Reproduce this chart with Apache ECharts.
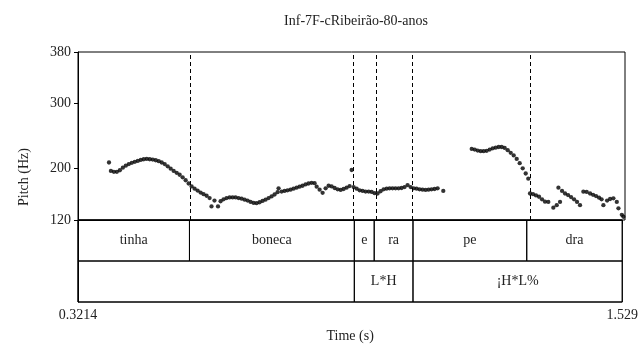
<!DOCTYPE html>
<html>
<head>
<meta charset="utf-8">
<script src="https://cdn.jsdelivr.net/npm/echarts@6/dist/echarts.min.js"></script>
<style>
    html, body {margin: 0; padding: 0; background: #fff;}
    #chart {width: 641px; height: 344px;}
</style>
</head>
<body>
<div id="chart"></div>
<script>
const titleText = 'Inf-7F-cRibeirão-80-anos';
const timeMin = 0.3214;
const timeMax = 1.529;
const pitchMin = 120;
const pitchMax = 380;
const pitchTicks = [120, 200, 300, 380];
const timeTicks = [0.3214, 1.529];

// pitch track (s, Hz)
const pitchTime = [
    0.3898, 0.394, 0.4006, 0.4072, 0.4138, 0.4204, 0.427, 0.4336, 0.4402, 0.4468,
    0.4534, 0.46, 0.4666, 0.4732, 0.4798, 0.4864, 0.493, 0.4996, 0.5062, 0.5128,
    0.5194, 0.526, 0.5326, 0.5392, 0.5458, 0.5524, 0.559, 0.5656,
    0.5722, 0.5788, 0.5854, 0.592, 0.5986, 0.6053, 0.6119, 0.6161, 0.6227, 0.6305,
    0.6362, 0.6428, 0.6494, 0.6561, 0.6627, 0.6693, 0.6759, 0.6826, 0.6892, 0.6958,
    0.7024, 0.7091, 0.7157, 0.7223, 0.7289, 0.7355, 0.7422, 0.7488, 0.7554, 0.762,
    0.7642, 0.7709, 0.7775, 0.7841, 0.7907, 0.7973, 0.804, 0.8106, 0.8172, 0.8238,
    0.8304, 0.8371, 0.8437, 0.8483, 0.8548, 0.8614, 0.8681, 0.8747, 0.8813, 0.8879,
    0.8945, 0.9012, 0.9078, 0.9144, 0.921, 0.9256, 0.9299, 0.9365, 0.9431, 0.9497,
    0.9563, 0.963, 0.9696, 0.9762, 0.9828, 0.9894, 0.9961, 1.0027, 1.0093, 1.0159,
    1.0225, 1.0292, 1.0358, 1.0424, 1.049, 1.0557, 1.0623, 1.0689, 1.0755, 1.0821,
    1.0888, 1.0954, 1.102, 1.1086, 1.1153, 1.1278,
    1.1906, 1.1972, 1.2038, 1.2105, 1.2171, 1.2237, 1.2303, 1.237, 1.2436, 1.2502,
    1.2568, 1.2634, 1.2701, 1.2767, 1.2833, 1.2899, 1.2965, 1.3032, 1.3098, 1.3155,
    1.3193, 1.3259, 1.3325, 1.3392, 1.3458, 1.3524, 1.3597, 1.3708, 1.3783, 1.382,
    1.3856, 1.39, 1.3966, 1.4033, 1.4099, 1.4165, 1.4231, 1.4297, 1.4371, 1.4444,
    1.4519, 1.4585, 1.4651, 1.4717, 1.4773, 1.4813, 1.4895, 1.4961, 1.5034, 1.5109,
    1.5145, 1.522, 1.5255
];
const pitchHz = [
    209, 196, 194.5, 194.5, 197, 201, 204, 206.5, 208.5, 210,
    211.5, 213, 214, 214.5, 214, 213.5, 212.5, 211, 209, 206.5,
    203, 199.5, 196, 193, 190, 186, 181.5, 176.5,
    172, 168.5, 165.5, 162.5, 160, 157.5, 154, 141, 150, 141,
    149, 152, 154, 155, 155, 155, 154, 153, 151.5, 150,
    148, 146.5, 146, 147.5, 149.5, 151.5, 154, 156.5, 159.5, 163,
    169, 164, 165, 166, 167, 168.5, 170, 171.5, 173, 175,
    176.5, 177.5, 177, 171.6, 167, 162, 169, 173, 172, 169.5,
    167.5, 166.5, 168, 170, 172.5, 197.4, 171, 168.5, 166, 165,
    164, 164, 163.5, 161.5, 161, 164.5, 167.5, 168.5, 169, 169,
    169, 169, 169.5, 171, 174, 171, 169, 168.5, 167.5, 167,
    166.5, 167, 167.5, 168, 169, 165,
    230, 229, 227.5, 226.5, 226.5, 227, 229, 231, 232, 233,
    233, 231.5, 228, 224, 220, 214.5, 208, 200, 192, 184,
    161, 160, 158, 156, 152, 148.3, 148, 139, 143, 170,
    148, 165, 161, 158.5, 155.5, 152, 148, 143, 163.8, 163.5,
    161, 159, 157, 154.5, 152, 143, 150, 152.5, 153.6, 148,
    138, 128, 125
];

// interval tiers: [start, end, label]
const words = [
    [0.3214, 0.5687, 'tinha'],
    [0.5687, 0.9345, 'boneca'],
    [0.9345, 0.9786, 'e'],
    [0.9786, 1.0647, 'ra'],
    [1.0647, 1.3171, 'pe'],
    [1.3171, 1.529, 'dra']
];
const tones = [
    [0.3214, 0.9345, ''],
    [0.9345, 1.0647, 'L*H'],
    [1.0647, 1.529, '¡H*L%']
];
const boundaries = [0.5687, 0.9345, 0.9786, 1.0647, 1.3171];

const font = '"Liberation Serif", "Times New Roman", serif';
const textColor = '#222';

const tierData = [];
words.forEach(w => tierData.push([w[0], w[1], 0, w[2]]));
tones.forEach(w => tierData.push([w[0], w[1], 1, w[2]]));

const myChart = echarts.init(document.getElementById('chart'), null, {renderer: 'canvas'});
myChart.setOption({
    animation: false,
    title: {
        text: titleText,
        left: 351,
        top: 9,
        textAlign: 'center',
        textStyle: {fontFamily: font, fontSize: 14, fontWeight: 'normal', color: textColor}
    },
    graphic: [{
        type: 'text',
        x: 24,
        y: 177,
        rotation: Math.PI / 2,
        style: {
            text: 'Pitch (Hz)',
            font: '14px ' + font,
            fill: textColor,
            align: 'center',
            verticalAlign: 'middle'
        }
    }],
    grid: [
        {left: 78, top: 52, width: 547, height: 168, show: true, borderColor: '#000', borderWidth: 1},
        {left: 78, top: 220, width: 547, height: 83, show: true, borderColor: '#000', borderWidth: 1}
    ],
    xAxis: [
        {
            gridIndex: 0, type: 'value', min: timeMin, max: timeMax,
            axisLine: {show: false}, axisTick: {show: false},
            axisLabel: {show: false}, splitLine: {show: false}
        },
        {
            gridIndex: 1, type: 'value', min: timeMin, max: timeMax,
            name: 'Time (s)', nameLocation: 'middle', nameGap: 27,
            nameTextStyle: {fontFamily: font, fontSize: 14, color: textColor},
            axisLine: {show: true, lineStyle: {color: '#000', width: 1}},
            axisTick: {show: true, length: 4, customValues: timeTicks, lineStyle: {color: '#000'}},
            axisLabel: {
                customValues: timeTicks, margin: 6,
                fontFamily: font, fontSize: 14, color: textColor,
                formatter: v => String(v)
            },
            splitLine: {show: false}
        }
    ],
    yAxis: [
        {
            gridIndex: 0, type: 'value', min: pitchMin, max: pitchMax,
            axisLine: {show: true, lineStyle: {color: '#000', width: 1}},
            axisTick: {show: true, length: 4, customValues: pitchTicks, lineStyle: {color: '#000'}},
            axisLabel: {customValues: pitchTicks, margin: 7, fontFamily: font, fontSize: 14, color: textColor},
            splitLine: {show: false}
        },
        {
            gridIndex: 1, type: 'value', min: 0, max: 2, inverse: true,
            axisLine: {show: true, lineStyle: {color: '#000'}},
            axisTick: {show: false}, axisLabel: {show: false}, splitLine: {show: false}
        }
    ],
    series: [
        {
            type: 'scatter',
            xAxisIndex: 0, yAxisIndex: 0,
            symbol: 'circle',
            symbolSize: 4.3,
            itemStyle: {color: '#000'},
            data: pitchTime.map((t, i) => [t, pitchHz[i]]),
            markLine: {
                silent: true,
                symbol: 'none',
                label: {show: false},
                lineStyle: {color: '#000', width: 1, type: [4, 3]},
                data: boundaries.map(t => ({xAxis: t}))
            }
        },
        {
            type: 'custom',
            xAxisIndex: 1, yAxisIndex: 1,
            clip: false,
            data: tierData,
            renderItem: function (params, api) {
                const row = api.value(2);
                const a = api.coord([api.value(0), row]);
                const b = api.coord([api.value(1), row + 1]);
                return {
                    type: 'rect',
                    shape: {x: a[0], y: a[1], width: b[0] - a[0], height: b[1] - a[1]},
                    style: {fill: 'rgba(0,0,0,0)', stroke: '#000', lineWidth: 1},
                    textContent: {
                        style: {text: tierData[params.dataIndex][3], font: '14px ' + font, fill: textColor}
                    },
                    textConfig: {position: 'inside'}
                };
            }
        }
    ]
});
</script>
</body>
</html>
